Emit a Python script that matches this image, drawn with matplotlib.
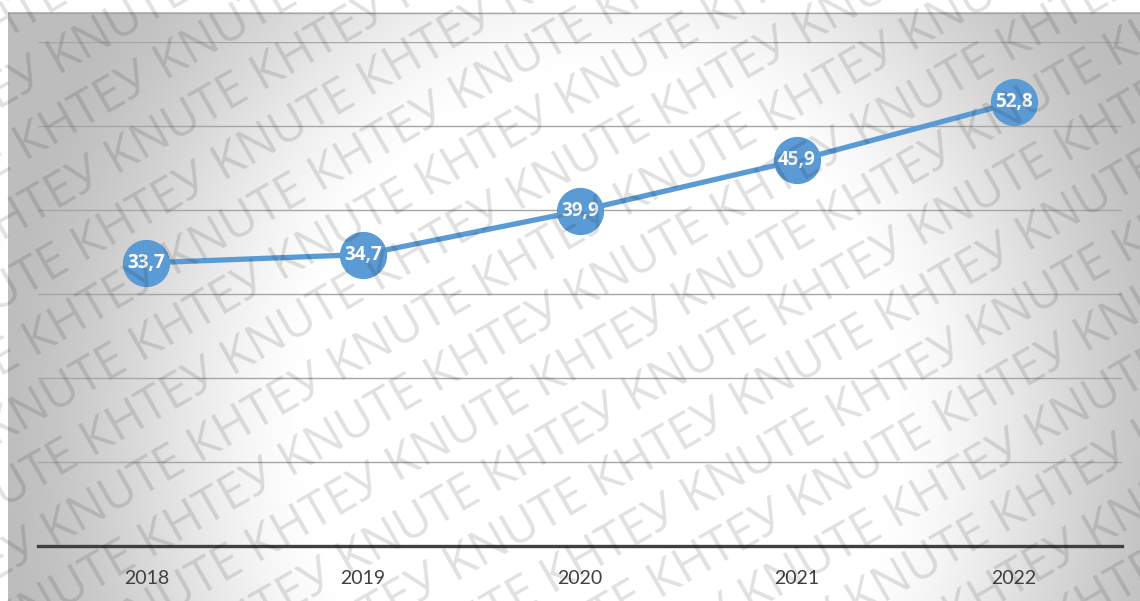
import numpy as np
import matplotlib
matplotlib.use("Agg")
import matplotlib.pyplot as plt

years = ["2018", "2019", "2020", "2021", "2022"]
values = [33.7, 34.7, 39.9, 45.9, 52.8]
labels = ["33,7", "34,7", "39,9", "45,9", "52,8"]

W, H = 1140, 601
fig = plt.figure(figsize=(W / 100, H / 100), dpi=100)
fig.patch.set_facecolor("white")

# background chart area with radial gradient
bg = fig.add_axes([8 / W, 0, 1 - 8 / W, (H - 12) / H])
bg.set_axis_off()
ys, xs = np.mgrid[12:H, 8:W]
cx, cy = 600, 420
d = np.sqrt(((xs - cx) / 600.0) ** 2 + ((ys - cy) / 700.0) ** 2)
t = np.clip((d - 0.5) / 0.5, 0, 1)
t = t * t * (3 - 2 * t) * 0.5 + t * 0.5
v = (255 - 66 * t) / 255.0
img = np.dstack([v, v, v])
bg.imshow(img, aspect="auto", extent=[0, 1, 0, 1], origin="upper", zorder=0)
bg.set_xlim(0, 1)
bg.set_ylim(0, 1)
bg.plot([0, 1], [0.999, 0.999], color="#a6a6a6", lw=1.0, zorder=1)

ax = fig.add_axes([38 / W, 1 - 546 / H, (1122 - 38) / W, (546 - 42) / H])
ax.set_facecolor("none")
x = np.arange(len(years))
ax.set_xlim(-0.5, len(years) - 0.5)
ax.set_ylim(0, 60)
ax.set_yticks([10, 20, 30, 40, 50, 60])
ax.yaxis.grid(True, color="#a6a6a6", lw=1.0)
ax.set_axisbelow(True)
ax.tick_params(axis="y", left=False, labelleft=False)
ax.tick_params(axis="x", bottom=False, pad=14)
for s in ["top", "right", "left"]:
    ax.spines[s].set_visible(False)
ax.spines["bottom"].set_color("#404040")
ax.spines["bottom"].set_linewidth(2.4)
ax.set_xticks(x)
ax.set_xticklabels(years, fontsize=14, color="#404040", family="Lato")

ax.plot(x, values, color="#5b9bd5", lw=3.8, marker="o", markersize=33,
        markerfacecolor="#5b9bd5", markeredgecolor="#5b9bd5", zorder=3,
        solid_capstyle="round")
for xi, yi, lab in zip(x, values, labels):
    ax.text(xi, yi, lab, ha="center", va="center", color="white",
            fontsize=13.5, fontweight="bold", family="Open Sans", zorder=4)

# watermark
ang = 30
phrase = "KNUTE КНТЕУ " * 8
ca, sa = np.cos(np.radians(ang)), np.sin(np.radians(ang))
spacing = 58
for k in range(-14, 15):
    shift = (k % 2) * 90
    px = 570 + k * spacing * (-sa) + shift * ca
    py = 300 + k * spacing * ca + shift * sa
    fig.text(px / W, py / H, phrase, rotation=ang, rotation_mode="anchor",
             fontsize=35, color="black", alpha=0.12, family="Open Sans",
             ha="center", va="center", zorder=10)

fig.savefig("out.png", dpi=100)
